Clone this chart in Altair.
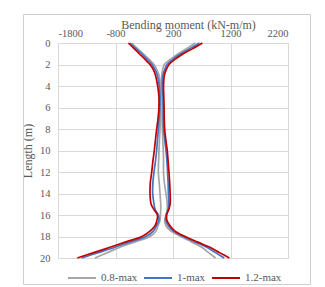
import altair as alt
import pandas as pd

depth = [0, 0.5, 1, 1.5, 2, 2.5, 3, 4, 5, 6, 7, 8, 9, 10, 11, 12, 13, 14, 15,
         15.5, 16, 16.5, 17, 17.5, 18, 18.5, 19, 19.5, 20]

gray_min = [-519, -420, -316, -220, -130, -80, -43, -21, -15, -15, -20, -26, -35, -43, -50, -55, -40, -26, -14,
            -14, -20, -26, -60, -96, -200, -460, -722, -940, -1157]
gray_max = [590, 440, 293, 160, 50, 20, 5, -5, 5, 10, 8, 15, 22, 31, 35, 35, 50, 78, 100,
            100, 80, 55, 78, 165, 334, 520, 699, 820, 940]

blue_min = [-548, -450, -344, -250, -165, -110, -73, -38, -28, -30, -40, -55, -70, -84, -105, -130, -150, -153, -130,
            -110, -55, -45, -90, -142, -270, -540, -809, -1100, -1388]
blue_max = [660, 500, 334, 200, 95, 55, 25, 15, 25, 30, 30, 35, 55, 78, 95, 105, 115, 120, 128,
            115, 80, 73, 118, 206, 380, 580, 786, 940, 1090]

red_min = [-577, -480, -386, -290, -200, -140, -105, -66, -45, -45, -60, -84, -105, -125, -150, -170, -195, -200, -180,
           -130, -70, -80, -113, -200, -340, -620, -896, -1180, -1464]
red_max = [710, 550, 380, 240, 130, 80, 50, 35, 40, 45, 48, 55, 75, 100, 115, 130, 142, 150, 150,
           125, 90, 95, 148, 235, 409, 620, 843, 1010, 1180]

series_names = ["0.8-max", "1-max", "1.2-max"]
series_colors = ["#A5A5A5", "#4472C4", "#C00000"]
x_ticks = [-1800, -800, 200, 1200, 2200]
y_ticks = [0, 2, 4, 6, 8, 10, 12, 14, 16, 18, 20]

rows = []
for name, mins, maxs in [("0.8-max", gray_min, gray_max),
                         ("1-max", blue_min, blue_max),
                         ("1.2-max", red_min, red_max)]:
    for d, lo, hi in zip(depth, mins, maxs):
        rows.append({"series": name, "side": "min", "depth": d, "moment": lo})
        rows.append({"series": name, "side": "max", "depth": d, "moment": hi})
df = pd.DataFrame(rows)

FONT = "Liberation Serif"
TXT = "#595959"
GRID = "#D9D9D9"
FRAME = "#CFCFCF"

color = alt.Color(
    "series:N",
    scale=alt.Scale(domain=series_names, range=series_colors),
    legend=alt.Legend(
        title=None, orient="none", direction="horizontal",
        legendX=9, legendY=220,
        symbolType="stroke", symbolSize=784, symbolStrokeWidth=2,
        labelFont=FONT, labelFontSize=11, labelColor=TXT,
        columnPadding=2, labelOffset=4, gridAlign="each",
    ),
)

x = alt.X(
    "moment:Q",
    scale=alt.Scale(domain=[-1800, 2200], nice=False),
    axis=alt.Axis(
        orient="top", values=x_ticks, title="Bending moment (kN-m/m)",
        labelExpr="'' + datum.value",
        titleFont=FONT, titleFontSize=12, titleFontWeight="normal", titleColor=TXT,
        titleX=130, titleY=-15, titleAlign="center", titleBaseline="alphabetic",
        labelFont=FONT, labelFontSize=10.5, labelColor=TXT, labelPadding=5,
        ticks=False, domain=False, gridColor=GRID, gridWidth=1,
    ),
)
y = alt.Y(
    "depth:Q",
    scale=alt.Scale(domain=[0, 20], reverse=True, nice=False),
    axis=alt.Axis(
        values=y_ticks, title="Length (m)",
        titleFont=FONT, titleFontSize=12, titleFontWeight="normal", titleColor=TXT,
        titlePadding=5,
        labelFont=FONT, labelFontSize=10.5, labelColor=TXT, labelPadding=8,
        ticks=False, domain=False, gridColor=GRID, gridWidth=1,
    ),
)

layers = []
for name in series_names:
    layers.append(
        alt.Chart(df).transform_filter(alt.datum.series == name)
        .mark_line(strokeWidth=1.7, interpolate="catmull-rom")
        .encode(x=x, y=y, color=color, detail="side:N", order=alt.Order("depth:Q"))
    )

# outer chart-area frame (decoration only); half-pixel offsets keep the 1px lines crisp
one = pd.DataFrame({"a": [0]})
b_left, b_right, b_top, b_bottom = -34.5, 252.5, -28.5, 241.5
vertical = [
    alt.Chart(one).mark_rule(color=FRAME, strokeWidth=1).encode(
        x=alt.value(xv), y=alt.value(b_top), y2=alt.value(b_bottom)
    )
    for xv in (b_left, b_right)
]
horizontal = [
    alt.Chart(one).mark_rule(color=FRAME, strokeWidth=1).encode(
        y=alt.value(yv), x=alt.value(b_left), x2=alt.value(b_right)
    )
    for yv in (b_top, b_bottom)
]

chart = alt.layer(*layers, *vertical, *horizontal).properties(
    width=230, height=215,
    autosize=alt.AutoSizeParams(type="none"),
    padding={"left": 58, "top": 43, "right": 37, "bottom": 29},
    background="white",
).configure_view(stroke=GRID)

chart.save("out.html", embed_options={"renderer": "svg", "actions": False})
